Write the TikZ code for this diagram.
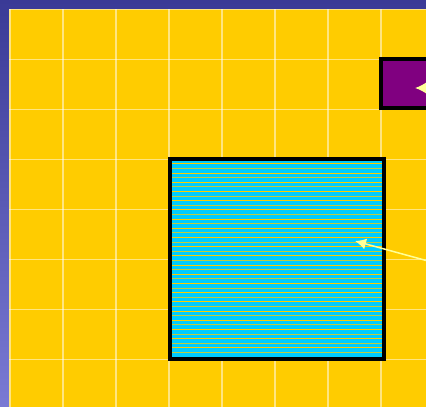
\documentclass[tikz,border=0pt]{standalone}
\usetikzlibrary{arrows.meta}
\definecolor{bgyellow}{HTML}{FFCC00}
\definecolor{boxcyan}{HTML}{00CCFF}
\definecolor{boxpurple}{HTML}{800080}
\definecolor{frametop}{HTML}{3A3A96}
\definecolor{framebot}{HTML}{7A7AD4}
\definecolor{arrowyellow}{HTML}{FFFF99}
\tikzset{
  gridline/.style={draw=white, opacity=0.5, line width=1.2pt},
  blackbox/.style={draw=black, line width=3.5pt, inner sep=0pt, outer sep=0pt},
  pointer/.style={draw=arrowyellow, line width=1.5pt, -{Latex[length=11pt,width=11pt]}},
}
\begin{document}
\begin{tikzpicture}[x=1pt,y=-1pt]
\useasboundingbox (0,0) rectangle (426,407);
% frame gradient
\shade[top color=frametop, bottom color=framebot] (0,0) rectangle (426,407);
% yellow field
\fill[bgyellow] (9,9) rectangle (426,407);
% grid
\foreach \gx in {10,63,116,169,222,275,328,381} {
  \draw[gridline] (\gx,9) -- (\gx,407);
}
\foreach \gy in {9.5,59.5,109.5,159.5,209.5,259.5,309.5,359.5} {
  \draw[gridline] (9,\gy) -- (426,\gy);
}
% cyan box with stripes
\fill[boxcyan] (170,159) rectangle (384,359);
\foreach \k in {0,...,41} {
  \pgfmathsetmacro{\yy}{163.8+4.6*\k}
  \pgfmathsetmacro{\op}{mod(\k,2)==0 ? 1 : 0.75}
  \draw[bgyellow, line width=0.9pt, opacity=\op] (172,\yy) -- (382,\yy);
}
% boxes
\node[blackbox, minimum width=214pt, minimum height=200pt, anchor=north west] (cyanbox) at (170,159) {};
\fill[boxpurple] (381,59) rectangle (430,108);
\node[blackbox, minimum width=60pt, minimum height=49pt, anchor=north west] (purplebox) at (381,59) {};
% arrows
\coordinate (cyanTip) at (355,241);
\coordinate (cyanTail) at (428,261);
\coordinate (purpleTip) at (415,88);
\coordinate (purpleTail) at (432,88);
\draw[pointer] (cyanTail) -- (cyanTip);
\draw[pointer] (purpleTail) -- (purpleTip);
\end{tikzpicture}
\end{document}
